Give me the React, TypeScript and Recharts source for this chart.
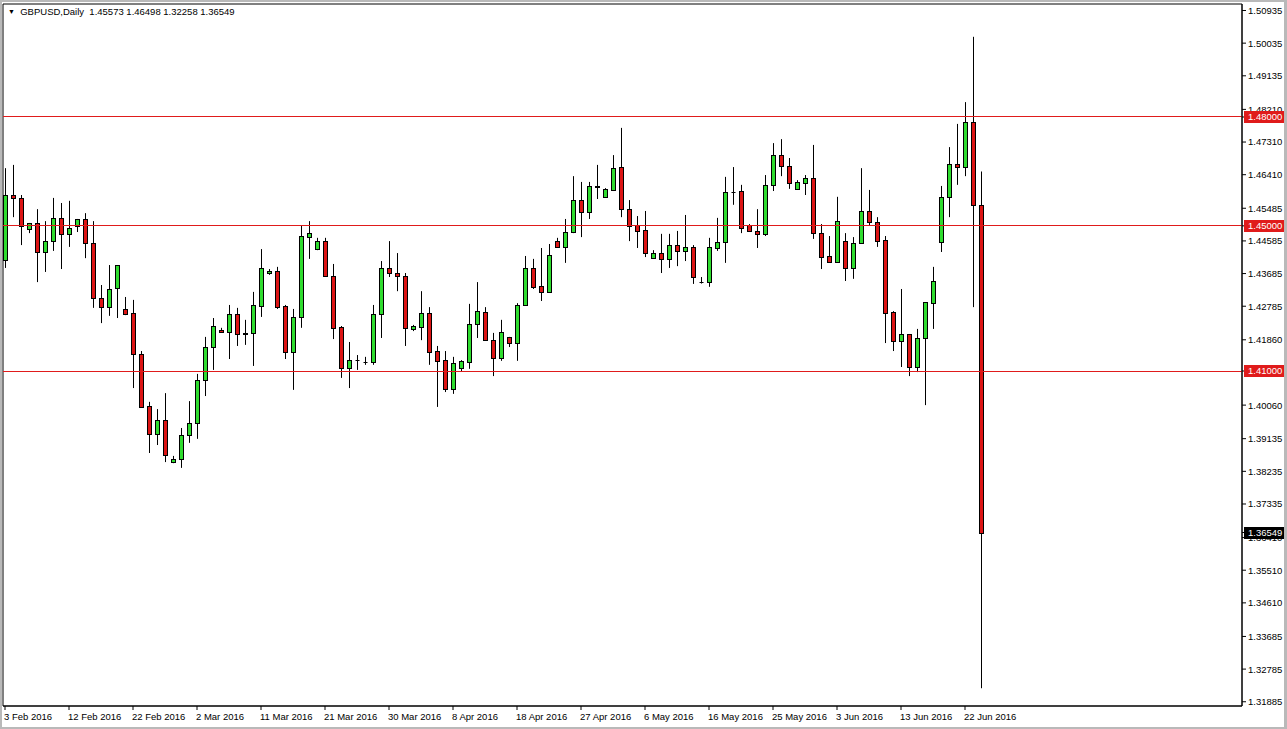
import {
  Bar,
  ComposedChart,
  ReferenceArea,
  ReferenceLine,
  XAxis,
  YAxis,
} from 'recharts';

// GBPUSD daily candles, 3 Feb 2016 .. 24 Jun 2016 (broker feed incl. Sunday bars)
const opens = [
  1.4406, 1.4585, 1.4577, 1.4491, 1.4508, 1.4428, 1.4458, 1.4522, 1.4478, 1.45,
  1.4519, 1.4453, 1.4301, 1.4276, 1.4329, 1.4271, 1.426, 1.4147, 1.4004, 1.3926,
  1.3965, 1.3849, 1.3857, 1.3924, 1.3957, 1.4075, 1.4166, 1.4213, 1.4208, 1.4257,
  1.4201, 1.4205, 1.4279, 1.437, 1.4376, 1.4279, 1.4152, 1.4249, 1.4469, 1.4436,
  1.4458, 1.4362, 1.4221, 1.4108, 1.413, 1.4125, 1.4124, 1.4257, 1.4384, 1.437,
  1.4362, 1.4216, 1.4221, 1.426, 1.4155, 1.413, 1.405, 1.4108, 1.4125, 1.423,
  1.4263, 1.4185, 1.4136, 1.4194, 1.4177, 1.4282, 1.4384, 1.4334, 1.4318, 1.4458,
  1.4442, 1.4483, 1.4571, 1.4538, 1.461, 1.458, 1.4599, 1.4662, 1.4546, 1.4502,
  1.4489, 1.4411, 1.4425, 1.4409, 1.4447, 1.4431, 1.4442, 1.4345, 1.4345, 1.4439,
  1.4456, 1.4594, 1.4596, 1.4502, 1.4486, 1.4478, 1.4613, 1.4695, 1.4665, 1.4602,
  1.4618, 1.4632, 1.448, 1.4417, 1.44, 1.4458, 1.4384, 1.4453, 1.4541, 1.4511,
  1.4461, 1.4263, 1.4183, 1.4202, 1.4111, 1.4191, 1.4287, 1.4456, 1.458, 1.467,
  1.4662, 1.4786, 1.45573,
];
const highs = [
  1.4659, 1.4668, 1.4585, 1.4508, 1.4546, 1.4513, 1.4577, 1.4563, 1.4569, 1.4519,
  1.4535, 1.4513, 1.4337, 1.4392, 1.4392, 1.4304, 1.4296, 1.4155, 1.4015, 1.3995,
  1.4039, 1.3866, 1.3943, 1.4017, 1.4092, 1.4194, 1.4246, 1.4219, 1.4282, 1.4274,
  1.4241, 1.4318, 1.4436, 1.4381, 1.4387, 1.4282, 1.4271, 1.4502, 1.4513, 1.4467,
  1.4467, 1.4395, 1.4224, 1.418, 1.4144, 1.4139, 1.4282, 1.4403, 1.4458, 1.4425,
  1.437, 1.4227, 1.432, 1.4276, 1.4169, 1.4155, 1.4139, 1.413, 1.4285, 1.4345,
  1.4276, 1.4205, 1.4241, 1.4194, 1.4287, 1.4417, 1.4409, 1.4439, 1.445, 1.4467,
  1.4519, 1.4637, 1.4621, 1.4621, 1.4668, 1.4604, 1.4695, 1.477, 1.4571, 1.4527,
  1.4541, 1.4433, 1.4478, 1.4478, 1.4486, 1.453, 1.4447, 1.4359, 1.4467, 1.4522,
  1.4635, 1.4662, 1.4613, 1.4505, 1.4546, 1.464, 1.4728, 1.4739, 1.4687, 1.4626,
  1.464, 1.4723, 1.4505, 1.4472, 1.458, 1.448, 1.4469, 1.4659, 1.4599, 1.4524,
  1.4472, 1.4265, 1.4326, 1.4202, 1.4216, 1.429, 1.4387, 1.461, 1.4717, 1.4781,
  1.4841, 1.5021, 1.46498,
];
const lows = [
  1.4384, 1.4524, 1.4447, 1.448, 1.4345, 1.4373, 1.4431, 1.4381, 1.4442, 1.4483,
  1.4411, 1.4274, 1.4232, 1.4252, 1.4246, 1.4254, 1.4053, 1.3998, 1.3874, 1.3896,
  1.3849, 1.3846, 1.3833, 1.3902, 1.3913, 1.4031, 1.4103, 1.4206, 1.4133, 1.4169,
  1.4172, 1.4114, 1.4249, 1.4365, 1.4271, 1.4133, 1.4048, 1.4219, 1.4409, 1.4433,
  1.436, 1.4188, 1.4081, 1.4053, 1.4103, 1.4117, 1.4117, 1.4191, 1.4359, 1.432,
  1.4169, 1.421, 1.4185, 1.4117, 1.4001, 1.4042, 1.4037, 1.41, 1.4106, 1.4191,
  1.4183, 1.4086, 1.4128, 1.4166, 1.4128, 1.428, 1.4326, 1.4293, 1.4315, 1.4439,
  1.4398, 1.448, 1.4469, 1.4519, 1.4574, 1.458, 1.4596, 1.4524, 1.4458, 1.4439,
  1.4414, 1.4409, 1.437, 1.4384, 1.4389, 1.4403, 1.434, 1.4341, 1.4332, 1.4431,
  1.4398, 1.4558, 1.448, 1.4483, 1.4439, 1.4472, 1.4596, 1.4637, 1.4602, 1.46,
  1.4585, 1.4464, 1.4381, 1.4398, 1.4398, 1.4348, 1.4354, 1.445, 1.4502, 1.4442,
  1.4177, 1.4155, 1.4111, 1.4086, 1.4097, 1.4006, 1.4216, 1.4428, 1.4524, 1.4613,
  1.4637, 1.4276, 1.32258,
];
const closes = [
  1.4585, 1.4577, 1.45, 1.4508, 1.4428, 1.4458, 1.4522, 1.4478, 1.4494, 1.4519,
  1.4453, 1.4301, 1.4276, 1.4326, 1.4392, 1.4257, 1.4147, 1.4001, 1.3926, 1.3965,
  1.3869, 1.3857, 1.3924, 1.3957, 1.4075, 1.4166, 1.4224, 1.4208, 1.4257, 1.4202,
  1.4204, 1.4282, 1.4384, 1.4376, 1.4276, 1.4152, 1.4249, 1.4472, 1.448, 1.4458,
  1.4362, 1.4219, 1.4108, 1.413, 1.4129, 1.4124, 1.4257, 1.4384, 1.437, 1.4362,
  1.4219, 1.4224, 1.426, 1.4152, 1.4128, 1.405, 1.4122, 1.4128, 1.423, 1.4265,
  1.4185, 1.4136, 1.4208, 1.4177, 1.4282, 1.4384, 1.4332, 1.4318, 1.442, 1.4442,
  1.4483, 1.4571, 1.4538, 1.461, 1.4608, 1.4602, 1.4659, 1.4546, 1.45, 1.4486,
  1.4425, 1.4425, 1.4409, 1.4447, 1.4431, 1.4442, 1.4359, 1.4344, 1.4442, 1.4456,
  1.4593, 1.4592, 1.4494, 1.4486, 1.4478, 1.4613, 1.4695, 1.4665, 1.4618, 1.4621,
  1.4632, 1.448, 1.4414, 1.44, 1.4513, 1.4384, 1.4453, 1.4541, 1.4511, 1.4458,
  1.426, 1.4183, 1.4202, 1.4111, 1.4191, 1.429, 1.4348, 1.458, 1.467, 1.4662,
  1.4786, 1.4557, 1.36549,
];

// bar index of each date label on the time axis
const dateTickIndex = [0, 8, 16, 24, 32, 40, 48, 56, 64, 72, 80, 88, 96, 104, 112, 120];
const dateTickLabels = [
  '3 Feb 2016', '12 Feb 2016', '22 Feb 2016', '2 Mar 2016', '11 Mar 2016',
  '21 Mar 2016', '30 Mar 2016', '8 Apr 2016', '18 Apr 2016', '27 Apr 2016',
  '6 May 2016', '16 May 2016', '25 May 2016', '3 Jun 2016', '13 Jun 2016',
  '22 Jun 2016',
];
const priceTicks = [
  1.50935, 1.50035, 1.49135, 1.4821, 1.4731, 1.4641, 1.45485, 1.44585, 1.43685,
  1.42785, 1.4186, 1.4006, 1.39135, 1.38235, 1.37335, 1.3641, 1.3551,
  1.3461, 1.33685, 1.32785, 1.31885,
];
const levels = [1.48, 1.45, 1.41];
const lastPrice = 1.36549;
const headerValues = ['1.45573', '1.46498', '1.32258', '1.36549'];

const rows = opens.map((o, i) => ({
  i,
  open: o,
  high: highs[i],
  low: lows[i],
  close: closes[i],
}));

const FONT = '"Liberation Sans", Arial, sans-serif';
const BULL = '#2fdc2f';
const BEAR = '#dc1414';
const LEVEL = '#e01b1b';
const Y_DOMAIN: [number, number] = [1.31768, 1.51114];

function Candle(props: any) {
  const { x, y, width, height, payload } = props;
  if (!payload) return null;
  const { open, close, high, low } = payload;
  const top = Math.min(y, y + height);
  const h = Math.abs(height);
  const k = high > low ? h / (high - low) : 0;
  const py = (v: number) => top + (high - v) * k;
  const cx = Math.round(x + width / 2) + 0.5;
  const bTop = Math.round(py(Math.max(open, close))) + 0.5;
  const bBot = Math.round(py(Math.min(open, close))) + 0.5;
  const up = close >= open;
  return (
    <g>
      <line x1={cx} x2={cx} y1={top} y2={top + h} stroke="#000" strokeWidth={1} />
      {bBot - bTop < 1 ? (
        <line x1={cx - 2} x2={cx + 2} y1={bTop} y2={bTop} stroke="#000" strokeWidth={1} />
      ) : (
        <rect
          x={cx - 2}
          y={bTop}
          width={4}
          height={bBot - bTop}
          fill={up ? BULL : BEAR}
          stroke="#000"
          strokeWidth={1}
        />
      )}
    </g>
  );
}

function DateTick(props: any) {
  const { x, y, payload } = props;
  const idx = dateTickIndex.indexOf(payload.value);
  return (
    <text x={x - 1} y={y} dy="0.71em" textAnchor="start" fill="#000" fontSize={9.5} fontFamily={FONT}>
      {dateTickLabels[idx]}
    </text>
  );
}

// price axis labels; level / last price tags come last so they paint on top
function PriceTick(props: any) {
  const { x, y, payload } = props;
  const v = payload.value as number;
  const txt = v.toFixed(5);
  const isLevel = levels.includes(v);
  if (isLevel || v === lastPrice) {
    return (
      <g>
        <rect x={x - 4} y={Math.round(y) - 6} width={41} height={12} fill={isLevel ? LEVEL : '#000'} />
        <text x={x} y={y} dy="0.36em" fill="#fff" fontSize={9.5} fontFamily={FONT}>
          {txt}
        </text>
      </g>
    );
  }
  return (
    <text x={x} y={y} dy="0.36em" fill="#000" fontSize={9.5} fontFamily={FONT}>
      {txt}
    </text>
  );
}

export default function App() {
  return (
    <div
      style={{
        position: 'absolute',
        left: 0,
        top: 0,
        width: 1287,
        height: 729,
        background: '#fff',
        fontFamily: FONT,
      }}
    >
      <ComposedChart
        width={1287}
        height={729}
        data={rows}
        margin={{ top: 4, right: 3, bottom: 3, left: 3 }}
      >
        <XAxis
          type="number"
          dataKey="i"
          domain={[-0.25, 154.625]}
          allowDataOverflow
          ticks={dateTickIndex}
          interval={0}
          height={20}
          tickSize={4}
          tickMargin={3}
          axisLine={{ stroke: '#000' }}
          tickLine={{ stroke: '#000' }}
          tick={<DateTick />}
        />
        <YAxis
          orientation="right"
          type="number"
          domain={Y_DOMAIN}
          allowDataOverflow
          ticks={[...priceTicks, lastPrice, ...levels]}
          interval={0}
          width={42}
          tickSize={4}
          tickMargin={2}
          axisLine={{ stroke: '#000' }}
          tickLine={{ stroke: '#000' }}
          tick={<PriceTick />}
        />
        <ReferenceArea
          x1={-0.25}
          x2={154.625}
          y1={Y_DOMAIN[0]}
          y2={Y_DOMAIN[1]}
          fill="none"
          stroke="#000"
          strokeOpacity={1}
          fillOpacity={0}
        />
        <Bar
          dataKey={(d: any) => [d.low, d.high]}
          shape={<Candle />}
          barSize={5}
          isAnimationActive={false}
        />
        {levels.map(lv => (
          <ReferenceLine key={lv} y={lv} stroke={LEVEL} strokeWidth={1} shapeRendering="crispEdges" />
        ))}
      </ComposedChart>
      <div
        style={{
          position: 'absolute',
          left: 8,
          top: 6,
          fontSize: 9.5,
          lineHeight: '12px',
          color: '#000',
          whiteSpace: 'pre',
        }}
      >
        <span style={{ fontSize: 7, verticalAlign: 1 }}>▼</span>
        {'  GBPUSD,Daily  ' + headerValues.join(' ')}
      </div>
      <div
        style={{
          position: 'absolute',
          left: 0,
          top: 0,
          width: 1287,
          height: 729,
          boxSizing: 'border-box',
          borderStyle: 'solid',
          borderColor: '#b9b9b9',
          borderWidth: '2px 3px 2px 2px',
          pointerEvents: 'none',
        }}
      />
    </div>
  );
}
